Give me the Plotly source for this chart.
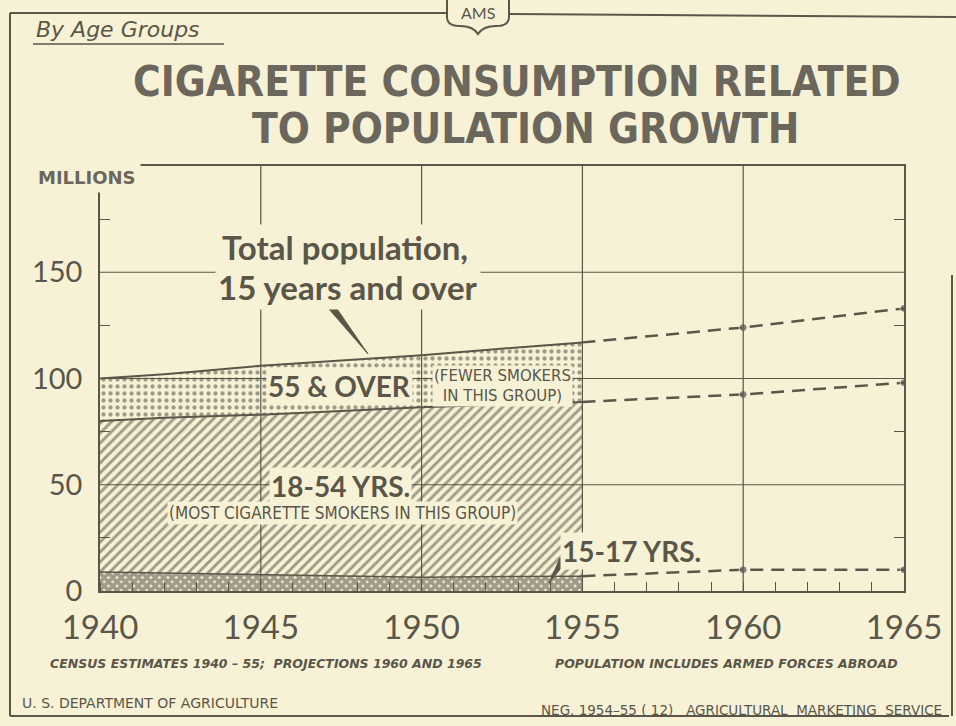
import plotly.graph_objects as go

# ---------------- data ----------------
years_hist = [1940, 1942, 1945, 1950, 1955]
age_15_17 = [9, 8.5, 7.5, 6.5, 7]          # bottom band (crosshatch)
age_18_plus = [80, 81.5, 83, 86.5, 89]      # top of 18-54 band
total_15_plus = [100, 102, 106, 111, 117]   # total population, 15 and over

years_proj = [1955, 1960, 1965]
proj_total = [117, 124, 133]
proj_18_plus = [89, 92.5, 98]
proj_15_17 = [7, 10, 10]

x_ticks = [1940, 1945, 1950, 1955, 1960, 1965]
x_tick_text = ["1940", "1945", "1950", "1955", "1960", "1965"]
y_ticks = [0, 50, 100, 150]
y_tick_text = ["0", "50", "100", "150"]

# ---------------- style ----------------
BG = "#f7f2d6"
INK = "#5a5649"
PAT = "#47433a"
TITLE_INK = "#6b675d"
W, H = 956, 726
L, R, T, B = 100, 52, 166, 135
PW, PH = W - L - R, H - T - B
COND = "DejaVu Sans Condensed, Roboto"
WIDE = "DejaVu Sans"


def px(x):
    return (x - L) / PW


def py(y):
    return (H - B - y) / PH


fig = go.Figure()

fig.add_trace(go.Scatter(
    x=years_hist, y=age_15_17, mode="lines", fill="tozeroy",
    line=dict(color=INK, width=1.5),
    fillpattern=dict(shape="x", fgcolor=PAT, bgcolor=BG, size=6, solidity=0.85),
    hoverinfo="skip", showlegend=False))
fig.add_trace(go.Scatter(
    x=years_hist, y=age_18_plus, mode="lines", fill="tonexty",
    line=dict(color=INK, width=2),
    fillpattern=dict(shape="/", fgcolor=PAT, bgcolor=BG, size=7, solidity=0.42),
    hoverinfo="skip", showlegend=False))
fig.add_trace(go.Scatter(
    x=years_hist, y=total_15_plus, mode="lines", fill="tonexty",
    line=dict(color=INK, width=2),
    fillpattern=dict(shape=".", fgcolor=PAT, bgcolor=BG, size=7, solidity=0.3),
    hoverinfo="skip", showlegend=False))

for ys in (proj_total, proj_18_plus, proj_15_17):
    fig.add_trace(go.Scatter(
        x=years_proj, y=ys, mode="lines+markers",
        line=dict(color=INK, width=2.5, dash="13px,8px"),
        marker=dict(color=INK, size=[0, 8, 8]),
        hoverinfo="skip", showlegend=False))

# grid lines drawn above the fills (from the tick lists)
shapes = []
for xv in x_ticks[1:-1]:
    shapes.append(dict(type="line", xref="x", yref="y", x0=xv, x1=xv, y0=0, y1=200,
                       line=dict(color=INK, width=1.2), layer="above"))
for yv in y_ticks[1:]:
    shapes.append(dict(type="line", xref="x", yref="y", x0=1940, x1=1965, y0=yv, y1=yv,
                       line=dict(color=INK, width=1.2), layer="above"))

# page frame
frame = dict(color=INK, width=2)
shapes += [
    dict(type="line", xref="paper", yref="paper", x0=px(10), x1=px(10), y0=py(13), y1=py(716), line=frame),
    dict(type="line", xref="paper", yref="paper", x0=px(10), x1=px(949), y0=py(716), y1=py(716), line=frame),
    dict(type="line", xref="paper", yref="paper", x0=px(10), x1=px(446), y0=py(13), y1=py(13), line=frame),
    dict(type="line", xref="paper", yref="paper", x0=px(510), x1=px(956), y0=py(14), y1=py(17), line=frame),
    dict(type="line", xref="paper", yref="paper", x0=px(952), x1=px(952), y0=py(275), y1=py(716), line=frame),
    # underline of subtitle
    dict(type="line", xref="paper", yref="paper", x0=px(33), x1=px(224), y0=py(44), y1=py(44),
         line=dict(color=INK, width=1.5)),
    # AMS shield
    dict(type="path", xref="paper", yref="paper",
         path=("M {a},{b} L {a},{c} Q {a},{d} {e},{d} Q {f},{d} {g},{h} Q {i},{d} {j},{d} Q {k},{d} {k},{c} L {k},{b}"
               ).format(a=px(447), b=py(0), c=py(17), d=py(26), e=px(460), f=px(473),
                        g=px(478), h=py(34), i=px(483), j=px(496), k=px(509)),
         line=dict(color=INK, width=2)),
    # pointer for total population label
    dict(type="path", xref="paper", yref="paper",
         path="M {},{} L {},{} L {},{} Z".format(px(329), py(309), px(335), py(306), px(368), py(354)),
         fillcolor=INK, line=dict(color=INK, width=1)),
    # pointer for 15-17 label
    dict(type="path", xref="paper", yref="paper",
         path="M {},{} L {},{} L {},{} Z".format(px(560), py(558), px(565), py(563), px(549), py(583)),
         fillcolor=INK, line=dict(color=INK, width=1), layer="above"),
]

ann = []


def text(x, y, s, size, xanchor="center", bold=False, italic=False, bg=None, family="Lato", color=INK, pad=1):
    ann.append(dict(xref="paper", yref="paper", x=px(x), y=py(y), text=s, showarrow=False,
                    xanchor=xanchor, yanchor="middle",
                    font=dict(family=family, size=size, color=color,
                              weight="bold" if bold else "normal",
                              style="italic" if italic else "normal"),
                    bgcolor=bg, borderpad=pad))


text(34, 30, "By Age Groups", 22, xanchor="left", italic=True, family=WIDE)
text(478, 13, "AMS", 16, family="Lato", pad=0)
text(517, 81, "CIGARETTE CONSUMPTION RELATED", 42, bold=True, family=COND, color=TITLE_INK, pad=0)
text(525, 129, "TO POPULATION GROWTH", 42, bold=True, family=COND, color=TITLE_INK, pad=0)
text(33, 177, "MILLIONS", 18, xanchor="left", bold=True, bg=BG, pad=4, family=WIDE, color=TITLE_INK)

text(345, 247, "Total population,", 33, bold=True, bg=BG, pad=2)
text(348, 287, "15 years and over", 33, bold=True, bg=BG, pad=2)
text(339, 386, "55 & OVER", 28, bold=True, bg=BG, pad=1)
text(502, 386, "(FEWER SMOKERS<br>IN THIS GROUP)", 15, family=WIDE, bg=BG, pad=1)
text(340, 486, "18-54 YRS.", 28, bold=True, bg=BG, pad=1)
text(342, 513, "(MOST CIGARETTE SMOKERS IN THIS GROUP)", 17, family=COND, bg=BG, pad=1)
text(631, 551, "15-17 YRS.", 28, bold=True, bg=BG, pad=1)

text(48, 663, "CENSUS ESTIMATES 1940 – 55;  PROJECTIONS 1960 AND 1965", 12.5, xanchor="left", bold=True, italic=True, family=WIDE)
text(553, 663, "POPULATION INCLUDES ARMED FORCES ABROAD", 12.5, xanchor="left", bold=True, italic=True, family=WIDE)
text(20, 703, "U. S. DEPARTMENT OF AGRICULTURE", 14, xanchor="left", family=WIDE)
text(944, 710, "NEG. 1954–55 ( 12)   AGRICULTURAL  MARKETING  SERVICE", 13.5, xanchor="right", family=WIDE)

fig.update_layout(
    width=W, height=H, margin=dict(l=L, r=R, t=T, b=B, pad=0),
    paper_bgcolor=BG, plot_bgcolor=BG,
    shapes=shapes, annotations=ann,
    xaxis=dict(range=[1940, 1965], tickvals=x_ticks, ticktext=x_tick_text,
               showgrid=False, zeroline=False, showline=True, linecolor=INK, linewidth=2,
               mirror=True, ticks="", tickfont=dict(family="Lato", size=33, color=INK),
               ticklabelstandoff=6,
               minor=dict(dtick=1, tick0=1940, ticks="inside", ticklen=9, tickcolor=INK, tickwidth=1.2),
               layer="above traces", fixedrange=True),
    yaxis=dict(range=[0, 200], tickvals=y_ticks, ticktext=y_tick_text,
               showgrid=False, zeroline=False, showline=True, linecolor=INK, linewidth=1.5,
               mirror="ticks", ticks="", tickfont=dict(family="Lato", size=29, color=INK),
               minor=dict(tickvals=[25, 75, 125, 175], ticks="inside", ticklen=10, tickcolor=INK, tickwidth=1.2),
               ticklabelstandoff=10,
               layer="above traces", fixedrange=True),
)

fig.write_html("out.html", config={"displayModeBar": False},
               post_script="document.body.style.margin='0';document.body.style.overflow='hidden';")
